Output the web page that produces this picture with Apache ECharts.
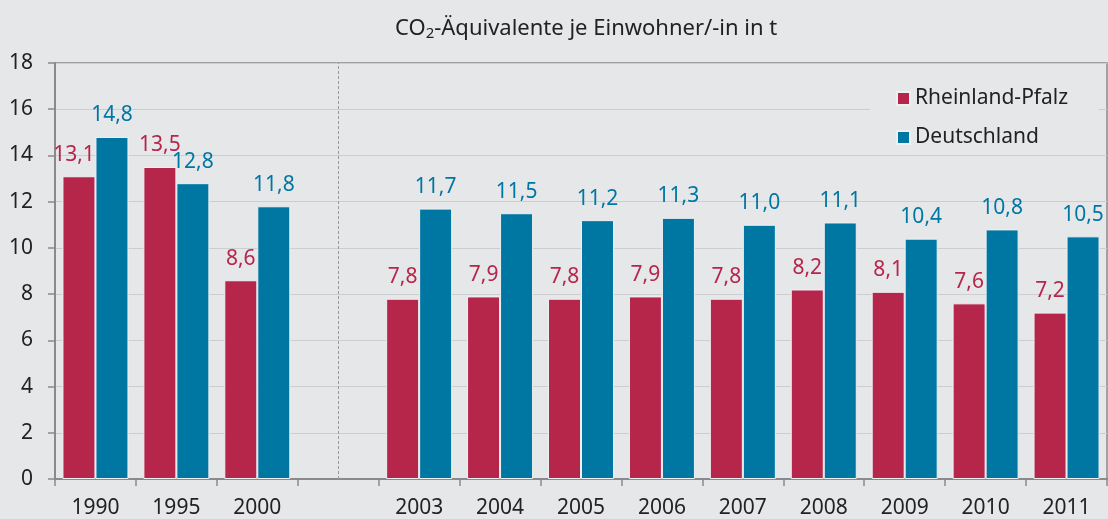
<!DOCTYPE html>
<html>
<head>
<meta charset="utf-8">
<script src="https://cdn.jsdelivr.net/npm/echarts@6/dist/echarts.min.js"></script>
<style>
  html, body { margin: 0; padding: 0; background: #e6e7e9; }
  #chart { width: 1108px; height: 519px; }
</style>
</head>
<body>
<div id="chart"></div>
<script>
// Kategorien (leere Kategorie = Lücke zwischen 2000 und 2003)
const categories = ['1990', '1995', '2000', '', '2003', '2004', '2005', '2006', '2007', '2008', '2009', '2010', '2011']
const rlp = [13.1, 13.5, 8.6, null, 7.8, 7.9, 7.8, 7.9, 7.8, 8.2, 8.1, 7.6, 7.2]
const de = [14.8, 12.8, 11.8, null, 11.7, 11.5, 11.2, 11.3, 11.0, 11.1, 10.4, 10.8, 10.5]
const seriesNames = ['Rheinland-Pfalz', 'Deutschland']
const yMax = 18
const yStep = 2

const font = 'Noto Sans'
const fs = 21
const red = '#b6264b'
const blue = '#0076a3'
const axisGray = '#8a8a8c'

const chart = echarts.init(document.getElementById('chart'))

function fmt(p) {
  return p.value == null ? '' : p.value.toFixed(1).replace('.', ',')
}

function barSeries(name, data, color) {
  return {
    name: name,
    type: 'bar',
    data: data,
    barWidth: 33,
    barGap: '0%',
    itemStyle: { color: color, borderColor: '#eef0f2', borderWidth: 1 },
    label: {
      show: true,
      position: 'top',
      distance: 11,
      formatter: fmt,
      color: color,
      fontFamily: font,
      fontSize: fs
    }
  }
}

// erstes Label (1990) etwas nach links, wie im Original
const rlpData = rlp.map((v, i) => i === 0 ? { value: v, label: { offset: [-5, 0] } } : v)

const series = [barSeries(seriesNames[0], rlpData, red), barSeries(seriesNames[1], de, blue)]
// gestrichelte Trennlinie in der Lücke (eigene leere Serie, damit nicht zur Balkenposition versetzt)
series.push({
  type: 'line',
  data: [],
  silent: true,
  markLine: {
    silent: true,
    symbol: 'none',
    label: { show: false },
    lineStyle: { color: '#9a9a9c', type: [3, 2], width: 1 },
    data: [{ xAxis: categories.indexOf('') }]
  }
})

chart.setOption({
  backgroundColor: '#e6e7e9',
  animation: false,
  title: {
    text: '{a|CO}{s|2}{a|-Äquivalente je Einwohner/-in in t}',
    left: 390,
    top: 11,
    textStyle: {
      rich: {
        a: { fontFamily: font, fontSize: 22, color: '#222', fontWeight: 'normal' },
        s: { fontFamily: font, fontSize: 15, color: '#222', fontWeight: 'normal', padding: [10, 0, 0, 0] }
      }
    }
  },
  legend: {
    orient: 'vertical',
    left: 870,
    top: 82,
    padding: [6, 31, 6, 26],
    backgroundColor: '#e6e7e9',
    itemWidth: 13,
    itemHeight: 13,
    itemGap: 18,
    icon: 'rect',
    data: seriesNames,
    textStyle: { fontFamily: font, fontSize: fs, color: '#222' }
  },
  grid: {
    left: 55,
    right: 1,
    top: 63,
    bottom: 40,
    show: true,
    borderColor: axisGray,
    borderWidth: 1.5
  },
  xAxis: {
    type: 'category',
    data: categories,
    axisLine: { lineStyle: { color: axisGray, width: 2 } },
    axisTick: { show: true, interval: 0, length: 7, lineStyle: { color: axisGray, width: 1.5 } },
    axisLabel: { interval: 0, margin: 19, fontFamily: font, fontSize: fs, color: '#222' }
  },
  yAxis: {
    type: 'value',
    min: 0,
    max: yMax,
    interval: yStep,
    axisLine: { show: true, lineStyle: { color: axisGray, width: 2 } },
    axisTick: { show: true, length: 7, lineStyle: { color: axisGray, width: 1.5 } },
    axisLabel: { margin: 22, fontFamily: font, fontSize: fs, color: '#222' },
    splitLine: { lineStyle: { color: '#cdcdd0', width: 1 } }
  },
  series: series
})
</script>
</body>
</html>
